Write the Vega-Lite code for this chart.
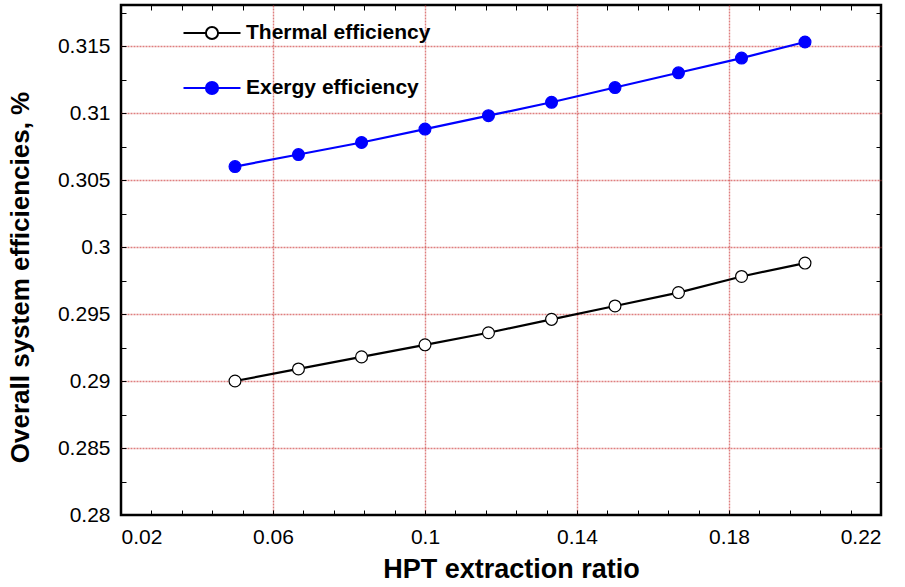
{
  "$schema": "https://vega.github.io/schema/vega-lite/v6.json",
  "autosize": "none",
  "width": 760,
  "height": 510,
  "padding": {"left": 121, "top": 5, "right": 24, "bottom": 72},
  "background": "white",
  "config": {
    "view": {"stroke": "black", "strokeWidth": 2.5},
    "font": "Liberation Sans",
    "axis": {
      "domain": false,
      "tickColor": "black",
      "tickWidth": 1,
      "tickSize": -5,
      "labelFont": "Liberation Sans",
      "labelFontSize": 21,
      "labelColor": "black",
      "titleFont": "Liberation Sans",
      "titleFontWeight": "bold",
      "titleColor": "black"
    },
    "legend": {
      "labelFont": "Liberation Sans",
      "labelFontSize": 21,
      "labelFontWeight": "bold",
      "labelColor": "black",
      "labelLimit": 0
    }
  },
  "data": {
    "values": [
      {"series": "Thermal efficiency", "ratio": 0.05, "eff": 0.2900},
      {"series": "Thermal efficiency", "ratio": 0.0667, "eff": 0.2909},
      {"series": "Thermal efficiency", "ratio": 0.0833, "eff": 0.2918},
      {"series": "Thermal efficiency", "ratio": 0.1, "eff": 0.2927},
      {"series": "Thermal efficiency", "ratio": 0.1167, "eff": 0.2936},
      {"series": "Thermal efficiency", "ratio": 0.1333, "eff": 0.2946},
      {"series": "Thermal efficiency", "ratio": 0.15, "eff": 0.2956},
      {"series": "Thermal efficiency", "ratio": 0.1667, "eff": 0.2966},
      {"series": "Thermal efficiency", "ratio": 0.1833, "eff": 0.2978},
      {"series": "Thermal efficiency", "ratio": 0.2, "eff": 0.2988},
      {"series": "Exergy efficiency", "ratio": 0.05, "eff": 0.3060},
      {"series": "Exergy efficiency", "ratio": 0.0667, "eff": 0.3069},
      {"series": "Exergy efficiency", "ratio": 0.0833, "eff": 0.3078},
      {"series": "Exergy efficiency", "ratio": 0.1, "eff": 0.3088},
      {"series": "Exergy efficiency", "ratio": 0.1167, "eff": 0.3098},
      {"series": "Exergy efficiency", "ratio": 0.1333, "eff": 0.3108},
      {"series": "Exergy efficiency", "ratio": 0.15, "eff": 0.3119},
      {"series": "Exergy efficiency", "ratio": 0.1667, "eff": 0.3130},
      {"series": "Exergy efficiency", "ratio": 0.1833, "eff": 0.3141},
      {"series": "Exergy efficiency", "ratio": 0.2, "eff": 0.3153}
    ]
  },
  "resolve": {"axis": {"x": "independent", "y": "independent"}},
  "layer": [
    {
      "mark": {"type": "line", "strokeWidth": 2.2},
      "encoding": {
        "x": {
          "field": "ratio", "type": "quantitative",
          "scale": {"domain": [0.02, 0.22], "nice": false, "zero": false},
          "axis": {
            "orient": "bottom",
            "zindex": 1,
            "title": "HPT extraction ratio",
            "titleFontSize": 27,
            "titleX": 390,
            "titlePadding": 9,
            "labelPadding": 16,
            "grid": false,
            "values": [0.02, 0.028, 0.036, 0.044, 0.052, 0.06, 0.068, 0.076, 0.084, 0.092, 0.1, 0.108, 0.116, 0.124, 0.132, 0.14, 0.148, 0.156, 0.164, 0.172, 0.18, 0.188, 0.196, 0.204, 0.212, 0.22],
            "format": "~g",
            "labelExpr": "abs(datum.value*25 - 0.5 - round(datum.value*25 - 0.5)) < 0.001 ? datum.label : ''"
          }
        },
        "y": {
          "field": "eff", "type": "quantitative",
          "scale": {"domain": [0.28, 0.31806], "nice": false, "zero": false},
          "axis": {
            "orient": "left",
            "zindex": 1,
            "title": "Overall system efficiencies, %",
            "titleFontSize": 26,
            "titleY": 272,
            "titlePadding": 24,
            "labelPadding": 16,
            "grid": false,
            "values": [0.28, 0.2825, 0.285, 0.2875, 0.29, 0.2925, 0.295, 0.2975, 0.3, 0.3025, 0.305, 0.3075, 0.31, 0.3125, 0.315, 0.3175],
            "format": "~g",
            "labelExpr": "abs(datum.value*200 - round(datum.value*200)) < 0.001 ? datum.label : ''"
          }
        },
        "stroke": {
          "field": "series", "type": "nominal",
          "scale": {"domain": ["Thermal efficiency", "Exergy efficiency"], "range": ["black", "blue"]},
          "legend": {
            "title": null,
            "orient": "none",
            "legendX": 71,
            "legendY": 8,
            "symbolType": "M-1.5,0H-0.32M0.32,0H1.5M0.32,0A0.32,0.32 0 1,1 -0.32,0A0.32,0.32 0 1,1 0.32,0",
            "symbolSize": 1444,
            "symbolStrokeWidth": 2,
            "labelOffset": 14,
            "rowPadding": 24
          }
        }
      }
    },
    {
      "transform": [{"filter": "datum.series === 'Thermal efficiency'"}],
      "mark": {"type": "circle", "size": 140, "opacity": 1, "strokeWidth": 1.2},
      "encoding": {
        "x": {
          "field": "ratio", "type": "quantitative",
          "axis": {
            "orient": "top",
            "zindex": 1,
            "title": null,
            "labels": false,
            "grid": false,
            "values": [0.028, 0.036, 0.044, 0.052, 0.068, 0.076, 0.084, 0.092, 0.108, 0.116, 0.124, 0.132, 0.148, 0.156, 0.164, 0.172, 0.188, 0.196, 0.204, 0.212]
          }
        },
        "y": {
          "field": "eff", "type": "quantitative",
          "axis": {
            "orient": "right",
            "zindex": 1,
            "title": null,
            "labels": false,
            "grid": false,
            "values": [0.2825, 0.2875, 0.2925, 0.2975, 0.3025, 0.3075, 0.3125, 0.3175]
          }
        },
        "fill": {
          "field": "series", "type": "nominal",
          "scale": {"domain": ["Thermal efficiency", "Exergy efficiency"], "range": ["white", "blue"]},
          "legend": {"title": null}
        },
        "stroke": {"field": "series", "type": "nominal"}
      }
    },
    {
      "transform": [{"filter": "datum.series === 'Exergy efficiency'"}],
      "mark": {"type": "circle", "size": 140, "opacity": 1, "strokeWidth": 1.2},
      "encoding": {
        "x": {
          "field": "ratio", "type": "quantitative",
          "axis": {
            "orient": "bottom",
            "zindex": 0,
            "title": null,
            "labels": false,
            "ticks": false,
            "grid": true,
            "gridColor": "#d04848",
            "gridDash": [2, 1],
            "gridWidth": 1.4,
            "gridOpacity": 0.7,
            "values": [0.06, 0.1, 0.14, 0.18]
          }
        },
        "y": {
          "field": "eff", "type": "quantitative",
          "axis": {
            "orient": "left",
            "zindex": 0,
            "title": null,
            "labels": false,
            "ticks": false,
            "grid": true,
            "gridColor": "#d04848",
            "gridDash": [2, 1],
            "gridWidth": 1.4,
            "gridOpacity": 0.7,
            "values": [0.285, 0.29, 0.295, 0.3, 0.305, 0.31, 0.315]
          }
        },
        "fill": {"field": "series", "type": "nominal", "legend": {"title": null}},
        "stroke": {"field": "series", "type": "nominal"}
      }
    }
  ]
}
